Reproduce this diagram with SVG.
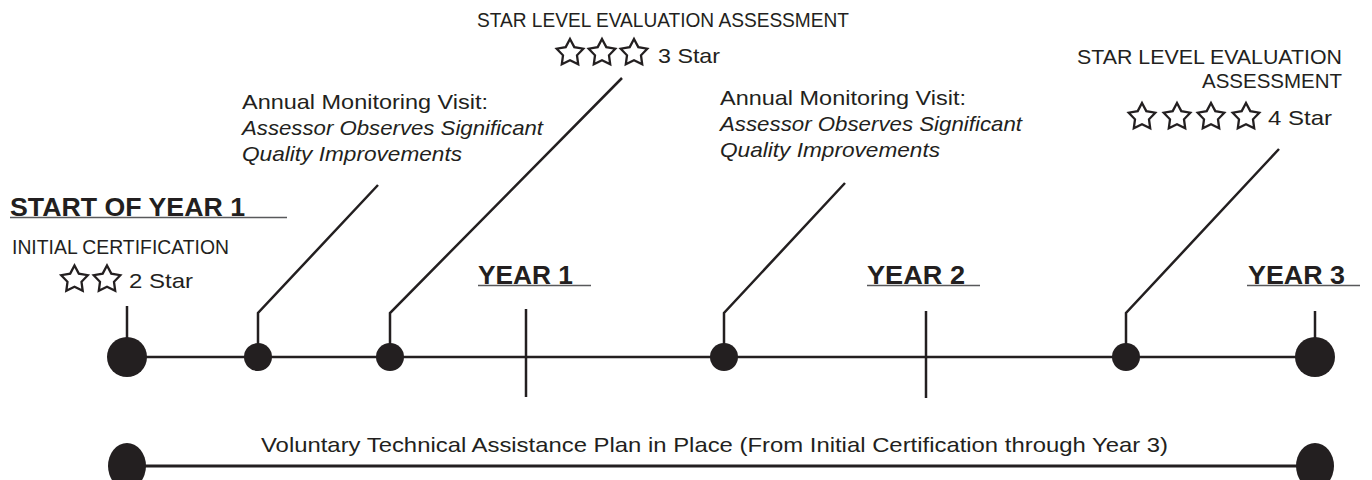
<svg xmlns="http://www.w3.org/2000/svg" xmlns:xlink="http://www.w3.org/1999/xlink" width="1372" height="480" viewBox="0 0 1372 480">
<style>
  text { font-family: "Liberation Sans", Arial, sans-serif; fill: #231f20; }
  .t { font-size: 21px; }
  .it { font-size: 21px; font-style: italic; }
  .h { font-size: 25px; font-weight: bold; }
  .hl { stroke: #58595b; stroke-width: 1.6; }
  .ln { stroke: #231f20; stroke-width: 2.5; fill: none; }
  .bl { stroke: #231f20; stroke-width: 3; fill: none; }
  .dot { fill: #231f20; }
  .star { fill: #fff; stroke: #231f20; stroke-width: 2.3; stroke-linejoin: miter; }
</style>
<defs>
  <path id="star" class="star" d="M0,-14 L4.3,-5.9 L13.3,-4.3 L7,2.3 L8.2,11.3 L0,7.3 L-8.2,11.3 L-7,2.3 L-13.3,-4.3 L-4.3,-5.9 Z"/>
</defs>

<g id="connectors">
  <line class="ln" x1="127" y1="357" x2="1315" y2="357"/>
  <line class="ln" x1="127" y1="306" x2="127" y2="357"/>
  <line class="ln" x1="1315" y1="311" x2="1315" y2="357"/>
  <polyline class="ln" points="258,357 258,313 378,185"/>
  <polyline class="ln" points="390,357 390,313 622,78"/>
  <polyline class="ln" points="724,357 724,313 845,183"/>
  <polyline class="ln" points="1126,357 1126,313 1279,149"/>
  <line class="ln" x1="526" y1="309" x2="526" y2="397"/>
  <line class="ln" x1="926" y1="311" x2="926" y2="398"/>
  <line class="bl" x1="127" y1="466" x2="1315" y2="466"/>
</g>

<g id="start-year-1">
  <text class="h" x="10" y="216" font-size="24" textLength="235" lengthAdjust="spacingAndGlyphs">START OF YEAR 1</text>
  <line class="hl" x1="10" y1="217.5" x2="287" y2="217.5"/>
</g>

<g id="initial-certification">
  <text class="t" x="12" y="254" textLength="217" lengthAdjust="spacingAndGlyphs">INITIAL CERTIFICATION</text>
  <use xlink:href="#star" x="74.5" y="279.5"/>
  <use xlink:href="#star" x="107" y="279.5"/>
  <text class="t" x="129" y="288" font-size="22" textLength="64" lengthAdjust="spacingAndGlyphs">2 Star</text>
  <circle class="dot" cx="127" cy="357" r="20"/>
</g>

<g id="monitoring-1">
  <text class="t" x="242" y="109" textLength="246" lengthAdjust="spacingAndGlyphs">Annual Monitoring Visit:</text>
  <text class="it" x="242" y="135" textLength="301" lengthAdjust="spacingAndGlyphs">Assessor Observes Significant</text>
  <text class="it" x="242" y="161" textLength="220" lengthAdjust="spacingAndGlyphs">Quality Improvements</text>
  <circle class="dot" cx="258" cy="357" r="14"/>
</g>

<g id="star-eval-1">
  <text class="t" x="477" y="27" textLength="372" lengthAdjust="spacingAndGlyphs">STAR LEVEL EVALUATION ASSESSMENT</text>
  <use xlink:href="#star" x="570" y="53"/>
  <use xlink:href="#star" x="602" y="53"/>
  <use xlink:href="#star" x="634" y="53"/>
  <text class="t" x="658" y="63" font-size="22" textLength="62" lengthAdjust="spacingAndGlyphs">3 Star</text>
  <circle class="dot" cx="390" cy="357" r="14"/>
</g>

<g id="year-1">
  <text class="h" x="478" y="284" textLength="95" lengthAdjust="spacingAndGlyphs">YEAR 1</text>
  <line class="hl" x1="478" y1="285.5" x2="591" y2="285.5"/>
</g>

<g id="monitoring-2">
  <text class="t" x="720" y="105" textLength="246" lengthAdjust="spacingAndGlyphs">Annual Monitoring Visit:</text>
  <text class="it" x="720" y="131" textLength="302" lengthAdjust="spacingAndGlyphs">Assessor Observes Significant</text>
  <text class="it" x="720" y="157" textLength="220" lengthAdjust="spacingAndGlyphs">Quality Improvements</text>
  <circle class="dot" cx="724" cy="357" r="14"/>
</g>

<g id="year-2">
  <text class="h" x="867" y="284" textLength="98" lengthAdjust="spacingAndGlyphs">YEAR 2</text>
  <line class="hl" x1="867" y1="285.5" x2="980" y2="285.5"/>
</g>

<g id="star-eval-2">
  <text class="t" x="1342" y="64" text-anchor="end" textLength="265" lengthAdjust="spacingAndGlyphs">STAR LEVEL EVALUATION</text>
  <text class="t" x="1342" y="88" text-anchor="end" textLength="140" lengthAdjust="spacingAndGlyphs">ASSESSMENT</text>
  <use xlink:href="#star" x="1142" y="117"/>
  <use xlink:href="#star" x="1177" y="117"/>
  <use xlink:href="#star" x="1211" y="117"/>
  <use xlink:href="#star" x="1246" y="117"/>
  <text class="t" x="1268" y="125" font-size="22" textLength="64" lengthAdjust="spacingAndGlyphs">4 Star</text>
  <circle class="dot" cx="1126" cy="357" r="14"/>
</g>

<g id="year-3">
  <text class="h" x="1248" y="284" textLength="97" lengthAdjust="spacingAndGlyphs">YEAR 3</text>
  <line class="hl" x1="1247" y1="285.5" x2="1360" y2="285.5"/>
  <circle class="dot" cx="1315" cy="357" r="20"/>
</g>

<g id="technical-assistance">
  <text class="t" x="261" y="452" textLength="907" lengthAdjust="spacingAndGlyphs">Voluntary Technical Assistance Plan in Place (From Initial Certification through Year 3)</text>
  <ellipse class="dot" cx="127" cy="466" rx="19" ry="23"/>
  <ellipse class="dot" cx="1315" cy="466" rx="19" ry="23"/>
</g>
</svg>
